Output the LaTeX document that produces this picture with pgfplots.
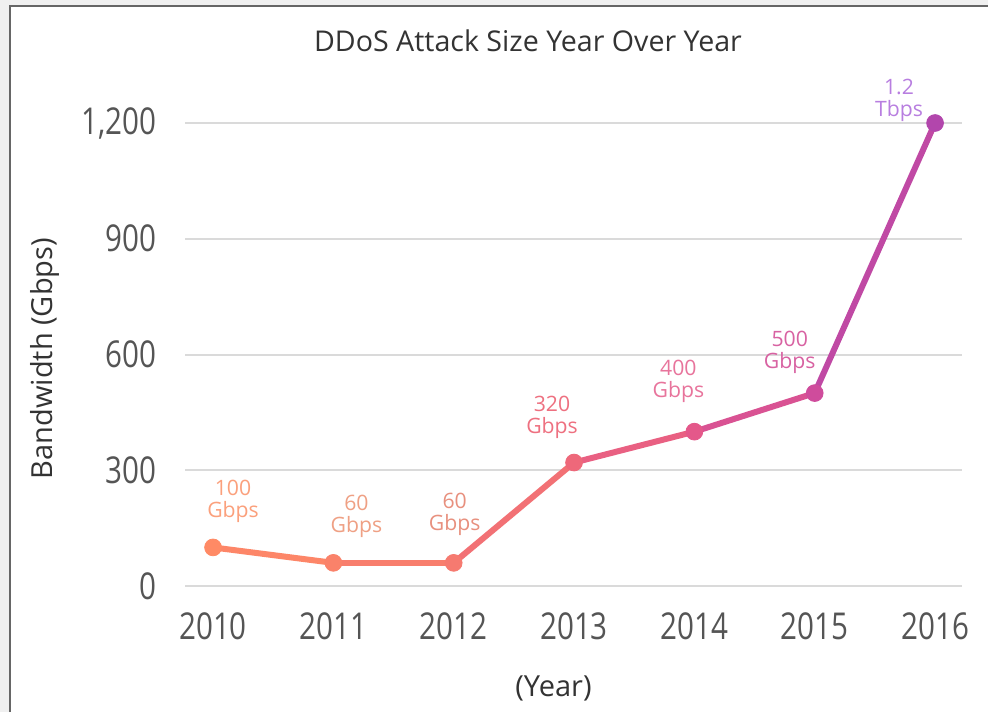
\documentclass[border=0pt]{standalone}
\usepackage{pgfplots}
\pgfplotsset{compat=1.18}
\usepackage{pgfplotstable}
\usepackage{fontspec}
\setmainfont{Open Sans}
\newfontfamily\tickfont[FakeStretch=0.8]{Open Sans}
\definecolor{titlegray}{HTML}{333333}
\definecolor{tickgray}{HTML}{555555}
\definecolor{gridgray}{HTML}{DADADA}
\definecolor{labA}{HTML}{FBA07C}
\definecolor{labB}{HTML}{EFA084}
\definecolor{labC}{HTML}{E8907E}
\definecolor{labD}{HTML}{EE7080}
\definecolor{labE}{HTML}{E8749C}
\definecolor{labF}{HTML}{D862A2}
\definecolor{labG}{HTML}{B87EE0}
\pgfplotstableread{
x y top bot
0 100 100 Gbps
1 60 60 Gbps
2 60 60 Gbps
3 320 320 Gbps
4 400 400 Gbps
5 500 500 Gbps
6 1200 1.2 Tbps
}\datatable
\pgfplotsset{
  labpos/.style={
    coordinate style/.condition={abs(x-0)<0.1}{xshift=10pt, yshift=#1+12.5pt, text=labA},
    coordinate style/.condition={abs(x-1)<0.1}{xshift=11.5pt, yshift=#1+13pt, text=labB},
    coordinate style/.condition={abs(x-2)<0.1}{xshift=0.5pt, yshift=#1+14pt, text=labC},
    coordinate style/.condition={abs(x-3)<0.1}{xshift=-11pt, yshift=#1+12pt, text=labD},
    coordinate style/.condition={abs(x-4)<0.1}{xshift=-8pt, yshift=#1+14.5pt, text=labE},
    coordinate style/.condition={abs(x-5)<0.1}{xshift=-12.5pt, yshift=#1+10pt, text=labF},
    coordinate style/.condition={abs(x-6)<0.1}{xshift=-18pt, yshift=#1+1pt, text=labG},
  },
  labnodes/.style={draw=none, mark=none, point meta=explicit symbolic,
    nodes near coords,
    every node near coord/.append style={anchor=base, inner sep=0pt, font=\fontsize{10.6}{11}\selectfont},
  },
}
\begin{document}
\begin{tikzpicture}
\useasboundingbox (0,0) rectangle (494pt,356pt);
\fill[gray!12] (0,0) rectangle (494pt,356pt);
\fill[white] (5.5pt,0) rectangle (494pt,352.5pt);
\draw[gray!80!black, line width=0.9pt] (5pt,0) -- (5pt,353pt) -- (494pt,353pt);
\node[font=\fontsize{14.3}{16}\selectfont, text=titlegray] at (264pt,335.5pt) {DDoS Attack Size Year Over Year};
\begin{axis}[
  at={(92.5pt,63pt)}, anchor=south west,
  scale only axis, width=388.5pt, height=231.5pt,
  xmin=-0.233, xmax=6.224, ymin=0, ymax=1200,
  clip=false,
  axis line style={draw=none}, tick style={draw=none},
  major tick length=0pt,
  xtick={0,1,2,3,4,5,6},
  xticklabels={2010,2011,2012,2013,2014,2015,2016},
  ytick={0,300,600,900,1200},
  ymajorgrids, grid style={gridgray, line width=1pt},
  /pgf/number format/assume math mode=true,
  /pgf/number format/1000 sep={,},
  ticklabel style={font=\tickfont\fontsize{18.5}{20}\selectfont, text=tickgray, inner sep=0pt},
  xticklabel style={anchor=north},
  yticklabel style={anchor=east},
  xticklabel shift=13pt,
  yticklabel shift=14pt,
  xlabel={(Year)}, ylabel={Bandwidth (Gbps)},
  every axis x label/.style={at={(axis description cs:0.5,0)}, anchor=center, yshift=-51pt, xshift=-10pt, font=\fontsize{14.5}{16}\selectfont, text=titlegray},
  every axis y label/.style={at={(axis description cs:-0.1802,0.491)}, anchor=center, rotate=90, font=\fontsize{14.5}{16}\selectfont, text=titlegray},
  colormap={ddos}{rgb255(0)=(255,138,101) rgb255(2)=(246,122,112) rgb255(3)=(238,104,122) rgb255(4)=(228,88,138) rgb255(5)=(207,76,156) rgb255(6)=(178,70,172)},
]
\addplot[mesh, point meta=x, line width=3pt, line join=round] table[x=x,y=y] {\datatable};
\addplot[scatter, only marks, mark=*, mark size=4.2pt, point meta=x,
  scatter/use mapped color={draw=mapped color, fill=mapped color}] table[x=x,y=y] {\datatable};
\addplot[labnodes, labpos=13.4pt] table[x=x,y=y,meta=top] {\datatable};
\addplot[labnodes, labpos=2.4pt] table[x=x,y=y,meta=bot] {\datatable};
\end{axis}
\end{tikzpicture}
\end{document}
